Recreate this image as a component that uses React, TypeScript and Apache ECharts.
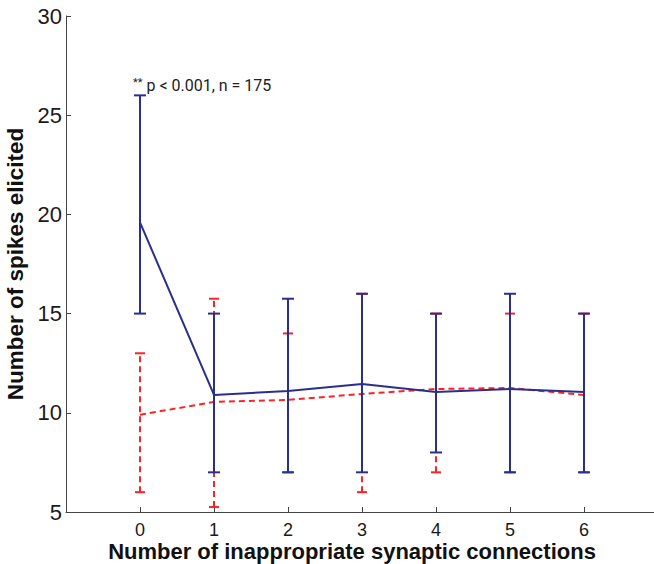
import React, { useEffect, useRef } from "react";
import * as echarts from "echarts";

const xValues = [0, 1, 2, 3, 4, 5, 6];
const xTickLabels = ["0", "1", "2", "3", "4", "5", "6"];
const blueMean = [19.6, 10.9, 11.1, 11.45, 11.05, 11.2, 11.05];
const blueUpper = [26, 15, 15.75, 16, 15, 16, 15];
const blueLower = [15, 7, 7, 7, 8, 7, 7];
const redMean = [9.9, 10.55, 10.65, 10.95, 11.2, 11.25, 10.9];
const redUpper = [13, 15.75, 14, 16, 15, 15, 15];
const redLower = [6, 5.25, 7, 6, 7, 7, 7];
const annotationStars = "**";
const annotationText = " p < 0.001, n = 175";
const xTitle = "Number of inappropriate synaptic connections";
const yTitle = "Number of spikes elicited";

const BLUE = "#2a2f8e";
const RED = "#ff2222";

function errorBarItem(color: string, dash: number[] | null, capHalf: number) {
  return (params: any, api: any) => {
    const x = api.value(0);
    const lo = api.coord([x, api.value(1)]);
    const hi = api.coord([x, api.value(2)]);
    const style: any = { stroke: color, lineWidth: 2 };
    if (dash) style.lineDash = dash;
    return {
      type: "group",
      children: [
        { type: "line", shape: { x1: lo[0], y1: lo[1], x2: hi[0], y2: hi[1] }, style },
        { type: "line", shape: { x1: lo[0] - capHalf, y1: lo[1], x2: lo[0] + capHalf, y2: lo[1] }, style: { stroke: color, lineWidth: 2 } },
        { type: "line", shape: { x1: hi[0] - capHalf, y1: hi[1], x2: hi[0] + capHalf, y2: hi[1] }, style: { stroke: color, lineWidth: 2 } },
      ],
    };
  };
}

export default function App() {
  const ref = useRef<HTMLDivElement>(null);
  useEffect(() => {
    if (!ref.current) return;
    const chart = echarts.init(ref.current, null, { renderer: "svg" });
    const font = "'Liberation Sans', Arial, Helvetica, sans-serif";
    chart.setOption({
      animation: false,
      backgroundColor: "#ffffff",
      grid: { left: 66, top: 16, width: 592, height: 496, containLabel: false, outerBoundsMode: "none" },
      xAxis: {
        type: "value",
        min: -1,
        max: 7,
        interval: 1,
        splitLine: { show: false },
        axisLine: { show: true, onZero: false, lineStyle: { color: "#444", width: 1 } },
        axisTick: { show: true, inside: true, length: 5, lineStyle: { color: "#444" } },
        axisLabel: {
          margin: 9,
          fontSize: 18,
          lineHeight: 18,
          color: "#1a1a1a",
          fontFamily: font,
          formatter: (v: number) => {
            const i = xValues.indexOf(v);
            return i >= 0 ? xTickLabels[i] : "";
          },
        },
      },
      yAxis: {
        type: "value",
        min: 5,
        max: 30,
        interval: 5,
        splitLine: { show: false },
        axisLine: { show: true, onZero: false, lineStyle: { color: "#444", width: 1 } },
        axisTick: { show: true, inside: true, length: 5, lineStyle: { color: "#444" } },
        axisLabel: { margin: 4, fontSize: 22, color: "#1a1a1a", fontFamily: font },
        name: yTitle,
        nameLocation: "middle",
        nameGap: 31,
        nameRotate: 90,
        nameTextStyle: { fontSize: 22.5, fontWeight: "bold", color: "#111", fontFamily: font },
      },
      graphic: [
        {
          type: "text",
          x: 133,
          y: 85,
          style: {
            text: "{s|" + annotationStars + "}{t|" + annotationText + "}",
            verticalAlign: "middle",
            rich: {
              s: { fontSize: 11, fill: "#222", fontFamily: "Roboto, sans-serif", verticalAlign: "top", padding: [0, 0, 4, 0] },
              t: { fontSize: 16, fill: "#222", fontFamily: "Roboto, sans-serif" },
            },
          },
        },
        {
          type: "text",
          x: 352,
          y: 551,
          style: {
            text: xTitle,
            fontSize: 22,
            lineHeight: 22,
            fontWeight: "bold",
            fill: "#111",
            fontFamily: font,
            align: "center",
            verticalAlign: "middle",
          },
        },
      ],
      series: [
        {
          type: "custom",
          z: 1,
          renderItem: errorBarItem(RED, [6, 4], 5),
          data: xValues.map((x, i) => [x, redLower[i], redUpper[i]]),
        },
        {
          type: "line",
          z: 2,
          symbol: "none",
          lineStyle: { color: RED, width: 2, type: [6, 4] },
          data: xValues.map((x, i) => [x, redMean[i]]),
        },
        {
          type: "custom",
          z: 3,
          renderItem: errorBarItem(BLUE, null, 6),
          data: xValues.map((x, i) => [x, blueLower[i], blueUpper[i]]),
        },
        {
          type: "line",
          z: 4,
          symbol: "none",
          lineStyle: { color: BLUE, width: 2 },
          data: xValues.map((x, i) => [x, blueMean[i]]),
        },
      ],
    });
    return () => chart.dispose();
  }, []);
  return <div ref={ref} style={{ position: "absolute", left: 0, top: 0, width: 654, height: 564 }} />;
}
